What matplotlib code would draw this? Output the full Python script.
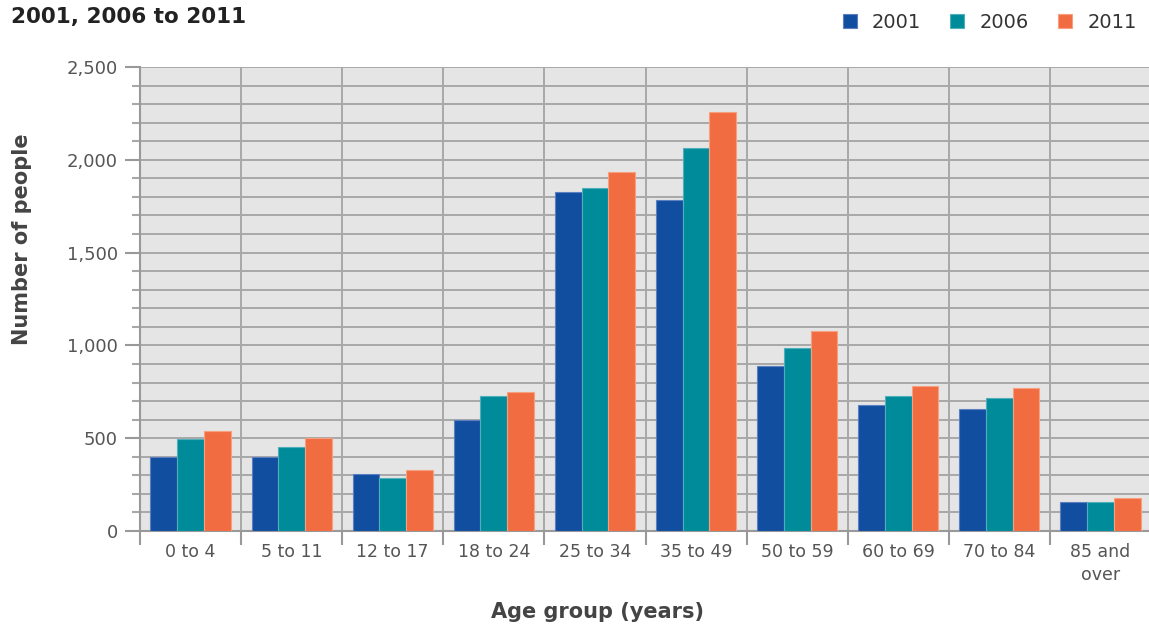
import numpy as np
import matplotlib.pyplot as plt
from matplotlib.ticker import MultipleLocator, FuncFormatter

# Datos
grupos = ["0 to 4", "5 to 11", "12 to 17", "18 to 24", "25 to 34",
          "35 to 49", "50 to 59", "60 to 69", "70 to 84", "85 and\nover"]
v2001 = [400, 398, 308, 600, 1825, 1782, 888, 677, 655, 155]
v2006 = [496, 452, 288, 728, 1850, 2064, 988, 728, 718, 155]
v2011 = [537, 502, 330, 750, 1935, 2258, 1075, 782, 772, 180]
anios = ["2001", "2006", "2011"]
colores = ["#124ea0", "#008b9a", "#f26c42"]
bordes = ["#5b7fc0", "#4fb0bb", "#f6a080"]

fig = plt.figure(figsize=(11.49, 6.28), dpi=100)
ax = fig.add_axes([0.1218, 0.1545, 0.8800, 0.7388])
ax.set_facecolor("#e5e5e5")

x = np.arange(len(grupos))
w = 0.264
for i, (vals, c, b, a) in enumerate(zip([v2001, v2006, v2011], colores, bordes, anios)):
    ax.bar(x + (i - 1) * w, vals, w, color=c, edgecolor=b, linewidth=0.8,
           label=a, zorder=3)

ax.set_xlim(-0.5, len(grupos) - 0.5)
ax.set_ylim(0, 2500)

# Malla horizontal cada 100 y vertical entre categorías
ax.yaxis.set_major_locator(MultipleLocator(500))
ax.yaxis.set_minor_locator(MultipleLocator(100))
ax.yaxis.set_major_formatter(FuncFormatter(lambda v, p: f"{int(v):,}"))
ax.grid(True, axis="y", which="both", color="#a8a8a8", linewidth=1.4, zorder=0)
ax.set_axisbelow(True)
for b in np.arange(0.5, len(grupos) - 0.5, 1):
    ax.axvline(b, color="#a8a8a8", linewidth=1.4, zorder=1)

ax.set_xticks(np.arange(-0.5, len(grupos), 1))
ax.set_xticklabels([])
ax.set_xticks(x, minor=True)
ax.set_xticklabels(grupos, minor=True, fontsize=12.5, color="#555555",
                   linespacing=1.35)
ax.tick_params(axis="x", which="major", length=10, width=1.5, color="#999999")
ax.tick_params(axis="x", which="minor", length=0, pad=9)
ax.tick_params(axis="y", which="major", length=11, width=1.5, color="#999999",
               labelsize=13, labelcolor="#555555", pad=5)
ax.tick_params(axis="y", which="minor", length=6, width=1.5, color="#a8a8a8")

for s in ["top", "right"]:
    ax.spines[s].set_visible(False)
for s in ["left", "bottom"]:
    ax.spines[s].set_color("#999999")
    ax.spines[s].set_linewidth(1.5)

fig.text(0.019, 0.619, "Number of people", fontsize=15, fontweight="bold",
         color="#444444", ha="center", va="center", rotation=90)
fig.text(0.520, 0.025, "Age group (years)", fontsize=15, fontweight="bold",
         color="#444444", ha="center", va="center")

fig.text(0.010, 0.973, "2001, 2006 to 2011", fontsize=15.5, fontweight="bold",
         color="#222222", ha="left", va="center")

ax.legend(loc="upper right", bbox_to_anchor=(1.003, 1.154), ncol=3, frameon=False,
          fontsize=14, handlelength=0.7, handleheight=0.7, columnspacing=1.5,
          handletextpad=0.8, labelcolor="#333333")

fig.savefig("out.png", dpi=100)
